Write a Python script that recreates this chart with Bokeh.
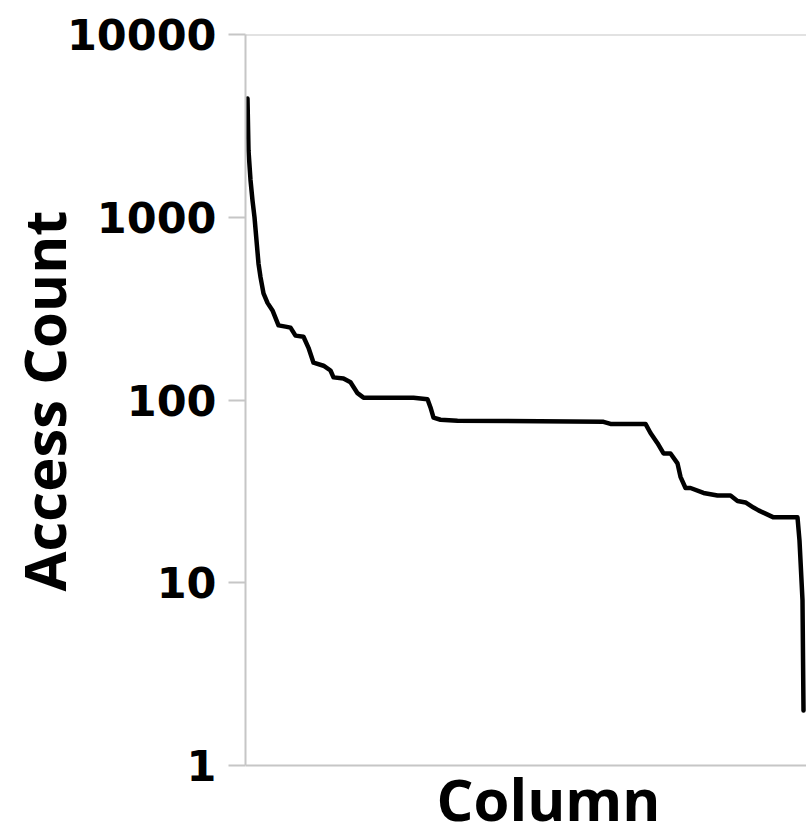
from bokeh.plotting import figure
from bokeh.models import Range1d, FixedTicker, Span, Label, NumeralTickFormatter, Title
from bokeh.embed import file_html
from bokeh.resources import INLINE

# Column rank (sorted by access count) and access count
column_rank = [2, 3, 5, 7, 9, 11, 13, 15, 18, 22, 27, 33, 40, 45, 50, 58, 63, 68,
               78, 85, 88, 98, 105, 112, 118, 168, 182, 185, 188, 195, 212, 358,
               365, 400, 405, 412, 418, 425, 432, 435, 440, 445, 458, 472, 485,
               492, 500, 508, 513, 520, 528, 552, 554, 557, 558]
access_count = [4467, 2319, 1600, 1235, 1000, 746, 558, 470, 383, 340, 309, 256,
                252, 249, 225, 222, 193, 160, 154, 145, 133, 131, 125, 109, 103,
                103, 101, 91, 80, 78, 77, 76, 74, 74, 66, 58, 51, 51, 45, 38, 33,
                33, 31, 30, 30, 28, 27.5, 25.8, 24.9, 23.9, 22.8, 22.8, 17, 8, 2]
y_ticks = [1, 10, 100, 1000, 10000]

FONT = "Open Sans"
TICK_FONT = "DejaVu Sans"
GREY = "#c6c6c6"

# frame runs to the bottom of the canvas so the x title can sit inside it;
# 1..10000 occupies the upper 731 px (4 decades)
y_bottom = 10 ** (-58 / 182.75)

p = figure(width=806, height=823, y_axis_type="log", output_backend="svg",
           toolbar_location=None, x_range=Range1d(0, 561),
           y_range=Range1d(y_bottom, 10000),
           min_border_left=245, min_border_right=0, min_border_top=34,
           min_border_bottom=0)
p.outline_line_color = None
p.xgrid.visible = False
p.ygrid.visible = False
p.xaxis.visible = False
p.background_fill_color = "white"
p.border_fill_color = "white"

ya = p.yaxis[0]
ya.bounds = (1, 10000)
ya.ticker = FixedTicker(ticks=y_ticks, minor_ticks=[])
ya.formatter = NumeralTickFormatter(format="0")
ya.axis_line_color = GREY
ya.axis_line_width = 2
ya.major_tick_line_color = GREY
ya.major_tick_line_width = 2
ya.major_tick_out = 17
ya.major_tick_in = 0
ya.minor_tick_out = 0
ya.minor_tick_in = 0
ya.major_label_text_font = TICK_FONT
ya.major_label_text_font_style = "bold"
ya.major_label_text_font_size = "43px"
ya.major_label_text_color = "black"
ya.major_label_standoff = 12

p.add_layout(Title(text="Access Count", align="left", offset=232, standoff=-38,
                   text_font=FONT, text_font_style="bold",
                   text_font_size="58px", text_color="black"), "left")

p.add_layout(Span(location=10000, dimension="width", line_color=GREY, line_width=2))
p.add_layout(Span(location=1, dimension="width", line_color=GREY, line_width=2))

p.line(column_rank, access_count, line_color="black", line_width=4.5,
       line_join="round", line_cap="round")

p.add_layout(Label(x=303, y=10 ** (-33 / 182.75), text="Column", text_align="center",
                   text_baseline="alphabetic", text_font=FONT,
                   text_font_style="bold", text_font_size="58px",
                   text_color="black"))

open("out.html", "w").write(file_html(p, INLINE))
